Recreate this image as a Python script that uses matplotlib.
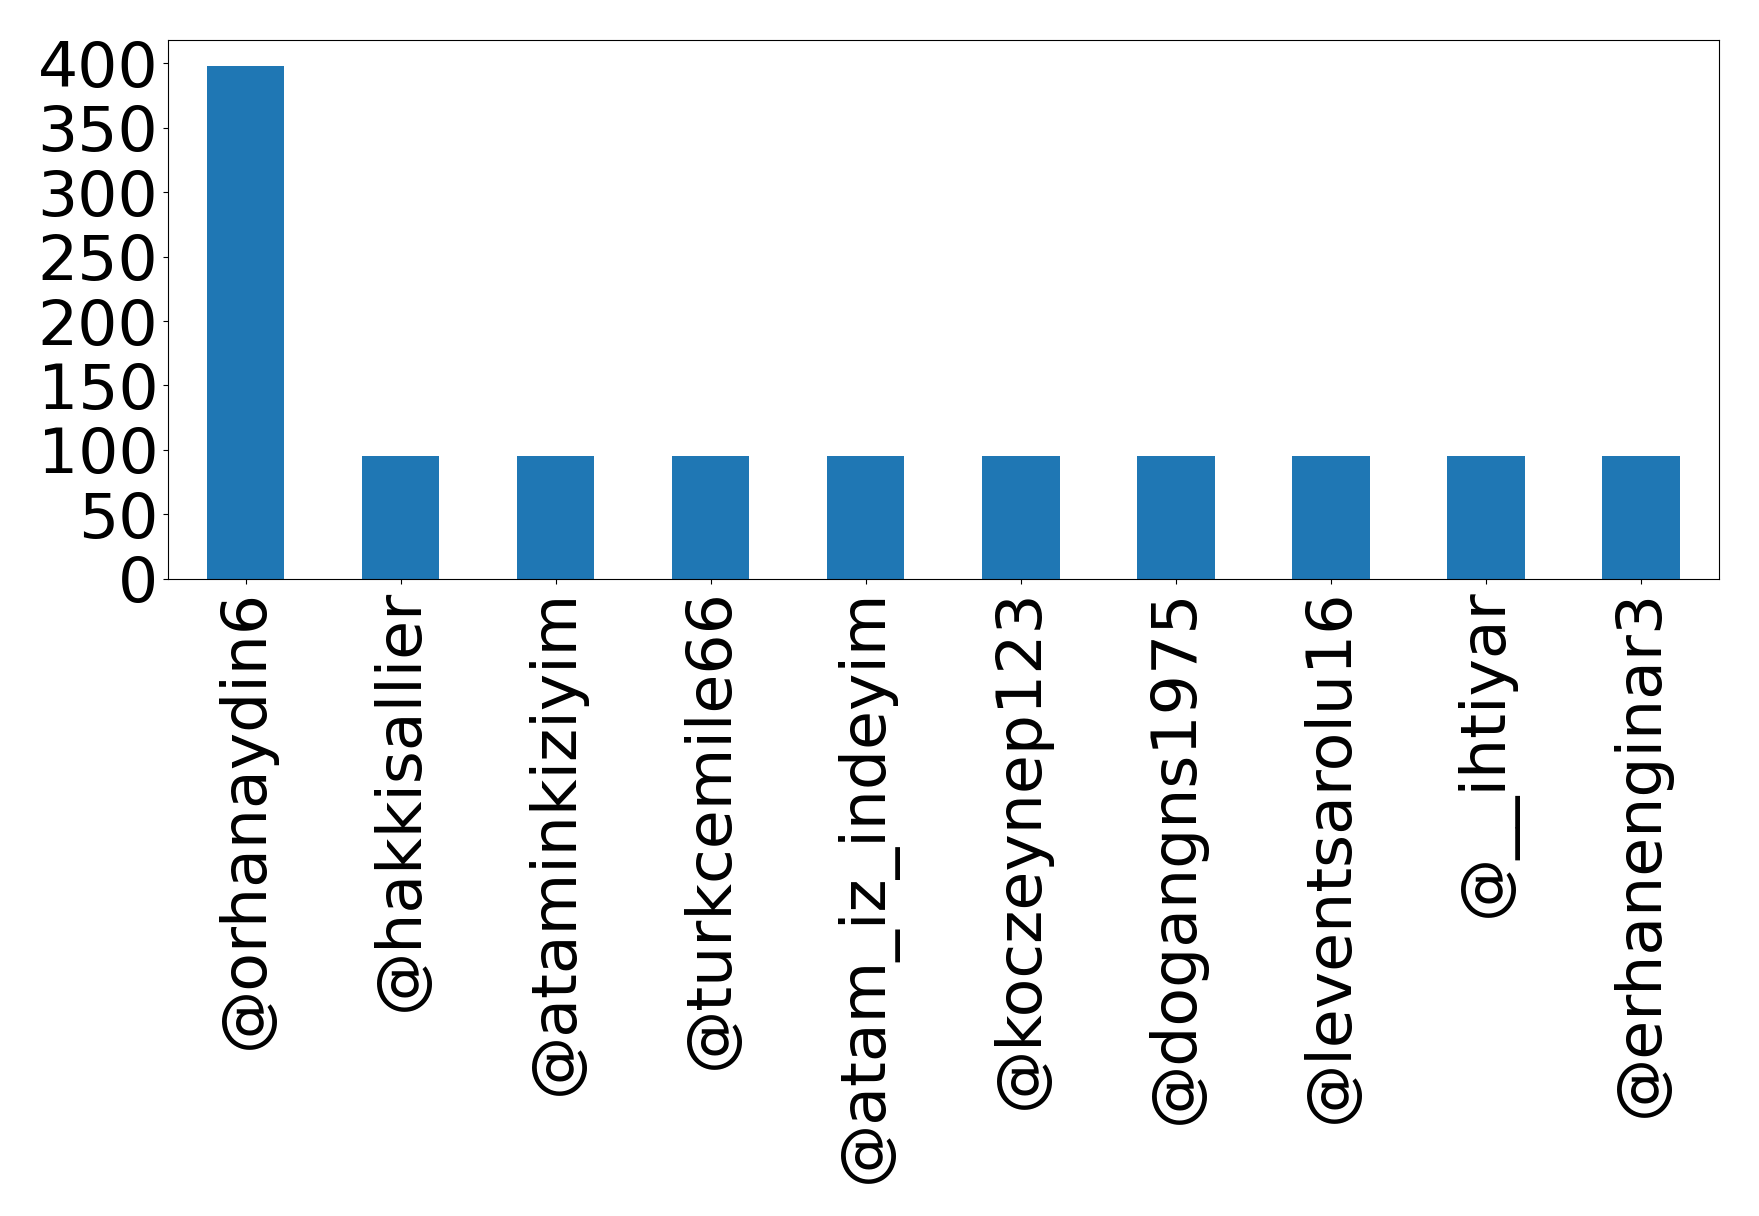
import numpy as np
import matplotlib
matplotlib.use("Agg")
import matplotlib.pyplot as plt

users = ["@orhanaydin6", "@hakkisallier", "@ataminkiziyim", "@turkcemile66",
         "@atam_iz_indeyim", "@koczeynep123", "@dogangns1975", "@leventsarolu16",
         "@__ihtiyar", "@erhanenginar3"]
counts = [398, 95, 95, 95, 95, 95, 95, 95, 95, 95]

fig = plt.figure(figsize=(17.59, 12.16), dpi=100)
ax = fig.add_axes([0.0955, 0.524, 0.8815, 0.443])
x = np.arange(len(users))
ax.bar(x, counts, width=0.5, color="#1f77b4")
ax.set_xlim(-0.5, len(users) - 0.5)
ax.set_xticks(x)
ax.set_xticklabels(users, rotation=90)
ax.set_yticks(np.arange(0, 401, 50))
ax.tick_params(axis="both", labelsize=45.5)
fig.savefig("out.png", dpi=100)
